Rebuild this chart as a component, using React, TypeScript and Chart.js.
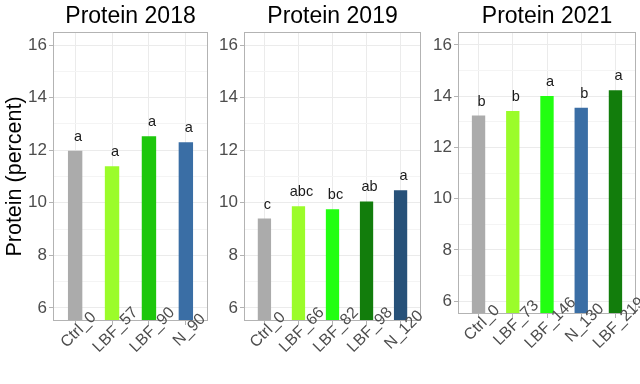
import React, { useEffect, useRef } from "react";
import { Chart, registerables } from "chart.js";

Chart.register(...registerables);

// ---- data ----
const labels2018 = ["Ctrl_0", "LBF_57", "LBF_90", "N_90"];
const values2018 = [11.98, 11.39, 12.53, 12.3];
const letters2018 = ["a", "a", "a", "a"];
const colors2018 = ["#ABABAB", "#9BFC2A", "#1DC70C", "#3A6EA5"];

const labels2019 = ["Ctrl_0", "LBF_66", "LBF_82", "LBF_98", "N_120"];
const values2019 = [9.4, 9.87, 9.75, 10.05, 10.48];
const letters2019 = ["c", "abc", "bc", "ab", "a"];
const colors2019 = ["#ABABAB", "#9BFC2A", "#22FF11", "#127D0C", "#275179"];

const labels2021 = ["Ctrl_0", "LBF_73", "LBF_146", "N_130", "LBF_219"];
const values2021 = [13.24, 13.42, 14.0, 13.55, 14.23];
const letters2021 = ["b", "b", "a", "b", "a"];
const colors2021 = ["#ABABAB", "#9BFC2A", "#22FF11", "#3A6EA5", "#127D0C"];

const yTicks = [6, 7, 8, 9, 10, 11, 12, 13, 14, 15, 16];
const yMin = 5.5;
const yMax = 16.5;
const yTitleText = "Protein (percent)";

const FONT = '"Liberation Sans", Arial, sans-serif';

type PanelProps = {
  title: string;
  labels: string[];
  values: number[];
  letters: string[];
  colors: string[];
  left: number;
  width: number;
  yAxisWidth: number;
  padRight: number;
  padBottom: number;
  yTitle?: string;
};

function Panel(p: PanelProps) {
  const ref = useRef<HTMLCanvasElement | null>(null);
  useEffect(() => {
    if (!ref.current) return;
    const n = p.labels.length;
    const plugin = {
      id: "panelDecor",
      afterDraw(chart: any) {
        const { ctx, chartArea: a, scales } = chart;
        const xs = scales.x;
        const ys = scales.y;
        ctx.save();
        // panel border
        ctx.strokeStyle = "#B3B3B3";
        ctx.lineWidth = 1;
        ctx.strokeRect(
          Math.round(a.left) + 0.5,
          Math.round(a.top) + 0.5,
          Math.round(a.right - a.left) - 1,
          Math.round(a.bottom - a.top) - 1
        );
        // title
        ctx.fillStyle = "#000000";
        ctx.font = `23px ${FONT}`;
        ctx.textAlign = "center";
        ctx.textBaseline = "alphabetic";
        ctx.fillText(p.title, (a.left + a.right) / 2, 22.5);
        // letters above bars
        ctx.font = `14.5px ${FONT}`;
        ctx.fillStyle = "#1A1A1A";
        p.values.forEach((v, i) => {
          const px = xs.getPixelForValue(i);
          const py = ys.getPixelForValue(v);
          ctx.fillText(p.letters[i], px + 3, py - 10);
        });
        // rotated x labels
        ctx.font = `16px ${FONT}`;
        ctx.fillStyle = "#4D4D4D";
        ctx.textBaseline = "middle";
        p.labels.forEach((l, i) => {
          ctx.save();
          ctx.translate(xs.getPixelForValue(i) + 3.5, a.bottom + 9);
          ctx.rotate(-Math.PI / 4);
          ctx.fillText(l, 0, 0);
          ctx.restore();
        });
        // y title
        if (p.yTitle) {
          ctx.save();
          ctx.translate(21, (a.top + a.bottom) / 2);
          ctx.rotate(-Math.PI / 2);
          ctx.font = `21.5px ${FONT}`;
          ctx.fillStyle = "#000000";
          ctx.textAlign = "center";
          ctx.textBaseline = "alphabetic";
          ctx.fillText(p.yTitle, 0, 0);
          ctx.restore();
        }
        ctx.restore();
      },
    };

    const chart = new Chart(ref.current, {
      type: "bar",
      data: {
        datasets: [
          {
            data: p.values.map((v, i) => ({ x: i, y: v })),
            backgroundColor: p.colors,
            borderWidth: 0,
            categoryPercentage: 1,
            barPercentage: 0.39,
          } as any,
        ],
      },
      options: {
        responsive: false,
        animation: false,
        devicePixelRatio: 1,
        layout: {
          padding: { left: 0, right: p.padRight, top: 32, bottom: p.padBottom },
        },
        plugins: {
          legend: { display: false },
          tooltip: { enabled: false },
          title: { display: false },
        },
        scales: {
          x: {
            type: "linear",
            offset: false,
            min: -0.6,
            max: n - 0.4,
            afterBuildTicks: (s: any) => {
              s.ticks = p.labels.map((_, i) => ({ value: i }));
            },
            afterFit: (s: any) => {
              s.height = 0;
            },
            ticks: { display: false },
            grid: {
              offset: false,
              color: "#EBEBEB",
              lineWidth: 1,
              tickLength: 4,
              tickColor: "#B3B3B3",
            },
            border: { display: false },
          },
          y: {
            type: "linear",
            min: yMin,
            max: yMax,
            afterBuildTicks: (s: any) => {
              s.ticks = yTicks.map((v) => ({ value: v }));
            },
            afterFit: (s: any) => {
              s.width = p.yAxisWidth;
            },
            ticks: {
              autoSkip: false,
              padding: 2,
              color: "#4D4D4D",
              font: { size: 17, family: FONT },
              callback: (v: any) => (Number(v) % 2 === 0 ? String(v) : ""),
            },
            grid: {
              color: (c: any) =>
                c.tick && c.tick.value % 2 === 0 ? "#EBEBEB" : "#F4F4F4",
              lineWidth: 1,
              tickLength: 4,
              tickColor: (c: any) =>
                c.tick && c.tick.value % 2 === 0 ? "#B3B3B3" : "rgba(0,0,0,0)",
            },
            border: { display: false },
          },
        },
      } as any,
      plugins: [plugin],
    });
    return () => chart.destroy();
  }, []);
  return (
    <canvas
      ref={ref}
      width={p.width}
      height={384}
      style={{ position: "absolute", left: p.left, top: 0, width: p.width, height: 384 }}
    />
  );
}

export default function App() {
  return (
    <div
      style={{
        position: "absolute",
        left: 0,
        top: 0,
        width: 640,
        height: 384,
        background: "#FFFFFF",
        overflow: "hidden",
      }}
    >
      <Panel
        title="Protein 2018"
        labels={labels2018}
        values={values2018}
        letters={letters2018}
        colors={colors2018}
        left={0}
        width={212}
        yAxisWidth={53}
        padRight={4}
        padBottom={63}
        yTitle={yTitleText}
      />
      <Panel
        title="Protein 2019"
        labels={labels2019}
        values={values2019}
        letters={letters2019}
        colors={colors2019}
        left={212}
        width={212}
        yAxisWidth={32}
        padRight={3}
        padBottom={63}
      />
      <Panel
        title="Protein 2021"
        labels={labels2021}
        values={values2021}
        letters={letters2021}
        colors={colors2021}
        left={424}
        width={216}
        yAxisWidth={34}
        padRight={4}
        padBottom={70}
      />
    </div>
  );
}
